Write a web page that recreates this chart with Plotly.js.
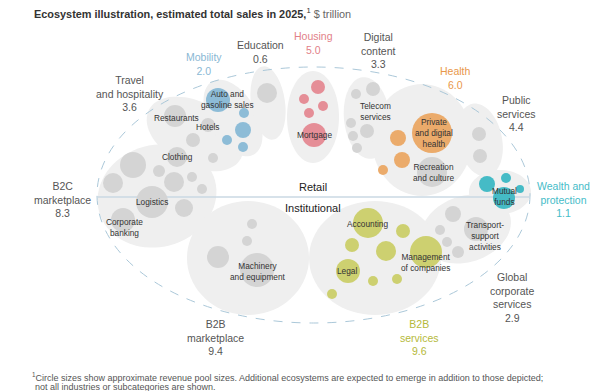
<!DOCTYPE html>
<html><head><meta charset="utf-8">
<script src="https://cdn.plot.ly/plotly-3.0.1.min.js"></script>
<style>html,body{margin:0;padding:0;background:#fff}#chart{width:600px;height:391px}</style>
</head><body><div id="chart"></div>
<script>
// Ecosystem totals ($ trillion)
const ecoNames = ["Mobility","Education","Housing","Digital<br>content","Health","Public<br>services","Travel<br>and hospitality","B2C<br>marketplace","Wealth and<br>protection","Global<br>corporate<br>services","B2B<br>services","B2B<br>marketplace"];
const ecoSales = ["2.0","0.6","5.0","3.3","6.0","4.4","3.6","8.3","1.1","2.9","9.6","9.4"];
const ecoLabelX = [204,260,313,378,455,516,130,62,563,512,419,215];
const ecoLabelY = [64,52,43,50,78,113,93,199,199,297,337,337];
const ecoColor = ["#8ab8d4","#555","#e27f88","#555","#e9974a","#555","#555","#555","#45bcc8","#555","#b5b93a","#555"];

// Revenue-pool circles (centre x, centre y, radius) by ecosystem colour group
const grayX = [175,208,193,177,213, 267, 356,373,351,367,353,357, 432, 479,480, 133,113,159,174,192,202,152,184,123, 252,247,218,257, 453,440,447,458,476];
const grayY = [116,125,140,157,158, 93, 94,89,123,131,136,148, 172, 134,156, 165,183,171,182,177,189,202,208,220, 224,241,257,270, 214,230,242,252,229];
const grayR = [11,7,7,10,5, 10, 5,7,5,7,5,5, 15, 7,7, 13,10,6,10,5,5,16,9,12, 5,5,11,17, 8,5,5,6,12];
const mobX = [218,244,243,227,243], mobY = [100,113,130,140,147], mobR = [12,5,8,5,5];
const houX = [318,304,323,309,314], houY = [87,99,106,113,135], houR = [7,5,5,5,12];
const heaX = [432,398,402,383], heaY = [133,138,160,170], heaR = [20,8,8,5];
const weaX = [487,506,520,504], weaY = [184,178,189,198], weaR = [8,5,4,11];
const b2bX = [368,403,352,386,426,348,373,397,332], b2bY = [223,231,245,251,252,271,281,279,294], b2bR = [15,7,7,10,16,12,5,5,5];

// Sub-category labels
const subText = ["Auto and<br>gasoline sales","Restaurants","Hotels","Clothing","Logistics","Corporate<br>banking","Mortgage","Telecom<br>services","Private<br>and digital<br>health","Recreation<br>and culture","Mutual<br>funds","Transport-<br>support<br>activities","Accounting","Management<br>of companies","Legal","Machinery<br>and equipment"];
const subX = [227,176,208,177,152,124,314,375,434,433,504,485,367,426,347,258];
const subY = [99,118,127,157,202,227,135,111,133,172,196,236,224,262,271,271];

// Background blobs (cx, cy, a, b, angle deg)
const blobCx = [195,233,268,313,367,422,480,157,500,466,375,248];
const blobCy = [134,118,103,117,118,140,140,196,192,229,258,258];
const blobA  = [52,42,17,26,23,50,22,60,31,46,66,61];
const blobB  = [32,24,37,46,41,56,37,51,22,33,57,57];
const blobAng= [28,60,-8,0,-6,0,-12,-15,0,-18,0,0];

// Footnote lines
const footLines = ["<sup>1</sup>Circle sizes show approximate revenue pool sizes. Additional ecosystems are expected to emerge in addition to those depicted;","not all industries or subcategories are shown."];

function blobPath(cx,cy,a,b,ang){
  const t = ang*Math.PI/180; let p='';
  for(let i=0;i<=72;i++){
    const s=i/72*2*Math.PI;
    const x=cx+a*Math.cos(t)*Math.cos(s)-b*Math.sin(t)*Math.sin(s);
    const y=cy+a*Math.sin(t)*Math.cos(s)+b*Math.cos(t)*Math.sin(s);
    p+=(i?'L':'M')+x.toFixed(1)+','+y.toFixed(1);
  }
  return p+'Z';
}
const shapes = [];
for(let i=0;i<blobCx.length;i++){
  shapes.push({type:'path',xref:'x',yref:'y',path:blobPath(blobCx[i],blobCy[i],blobA[i],blobB[i],blobAng[i]),fillcolor:'#efefef',line:{width:0},layer:'below'});
}
shapes.push({type:'circle',xref:'x',yref:'y',x0:97,x1:530,y0:67,y1:323,line:{color:'#abc8d9',width:1,dash:'dash'},fillcolor:'rgba(0,0,0,0)',layer:'below'});
shapes.push({type:'line',xref:'x',yref:'y',x0:97,x1:530,y0:197,y1:197,line:{color:'#cad9e3',width:1.5},layer:'below'});

function circ(x,y,r,color){
  return {type:'scatter',mode:'markers',x:x,y:y,hoverinfo:'skip',
    marker:{size:r.map(v=>2*v),color:color,line:{width:0},opacity:1}};
}
const data = [
  circ(grayX,grayY,grayR,'#d4d4d4'),
  circ(mobX,mobY,mobR,'#8dbcd7'),
  circ(houX,houY,houR,'#e58e97'),
  circ(heaX,heaY,heaR,'#ebab6b'),
  circ(weaX,weaY,weaR,'#45bbc6'),
  circ(b2bX,b2bY,b2bR,'#cdd070')
];

const FONT = 'Liberation Sans, Arial, sans-serif';
const ann = [];
for(let i=0;i<ecoNames.length;i++){
  ann.push({x:ecoLabelX[i],y:ecoLabelY[i],xref:'x',yref:'y',showarrow:false,xanchor:'center',yanchor:'middle',align:'center',
    text:ecoNames[i]+'<br>'+ecoSales[i],font:{family:FONT,size:10.5,color:ecoColor[i]}});
}
for(let i=0;i<subText.length;i++){
  ann.push({x:subX[i],y:subY[i],xref:'x',yref:'y',showarrow:false,xanchor:'center',yanchor:'middle',align:'center',
    text:subText[i],font:{family:FONT,size:8.3,color:'#333'}});
}
ann.push({x:313,y:187,xref:'x',yref:'y',showarrow:false,text:'Retail',font:{family:FONT,size:11,color:'#222'}});
ann.push({x:313,y:208,xref:'x',yref:'y',showarrow:false,text:'Institutional',font:{family:FONT,size:11,color:'#222'}});
ann.push({x:32,y:13,xref:'x',yref:'y',showarrow:false,xanchor:'left',yanchor:'middle',
  text:'<b>Ecosystem illustration, estimated total sales in 2025,</b><sup>1</sup> <span style="color:#666">$ trillion</span>',
  font:{family:FONT,size:10.9,color:'#333'}});
ann.push({x:30,y:377,xref:'x',yref:'y',showarrow:false,xanchor:'left',yanchor:'middle',align:'left',
  text:footLines[0],font:{family:FONT,size:9,color:'#555'}});
ann.push({x:33,y:387,xref:'x',yref:'y',showarrow:false,xanchor:'left',yanchor:'middle',align:'left',
  text:footLines[1],font:{family:FONT,size:9,color:'#555'}});

const layout = {
  width:600,height:391,margin:{l:0,r:0,t:0,b:0},paper_bgcolor:'#fff',plot_bgcolor:'#fff',showlegend:false,
  xaxis:{range:[0,600],visible:false,fixedrange:true},
  yaxis:{range:[391,0],visible:false,fixedrange:true},
  shapes:shapes,annotations:ann
};
Plotly.newPlot('chart',data,layout,{displayModeBar:false,staticPlot:true});
</script></body></html>
